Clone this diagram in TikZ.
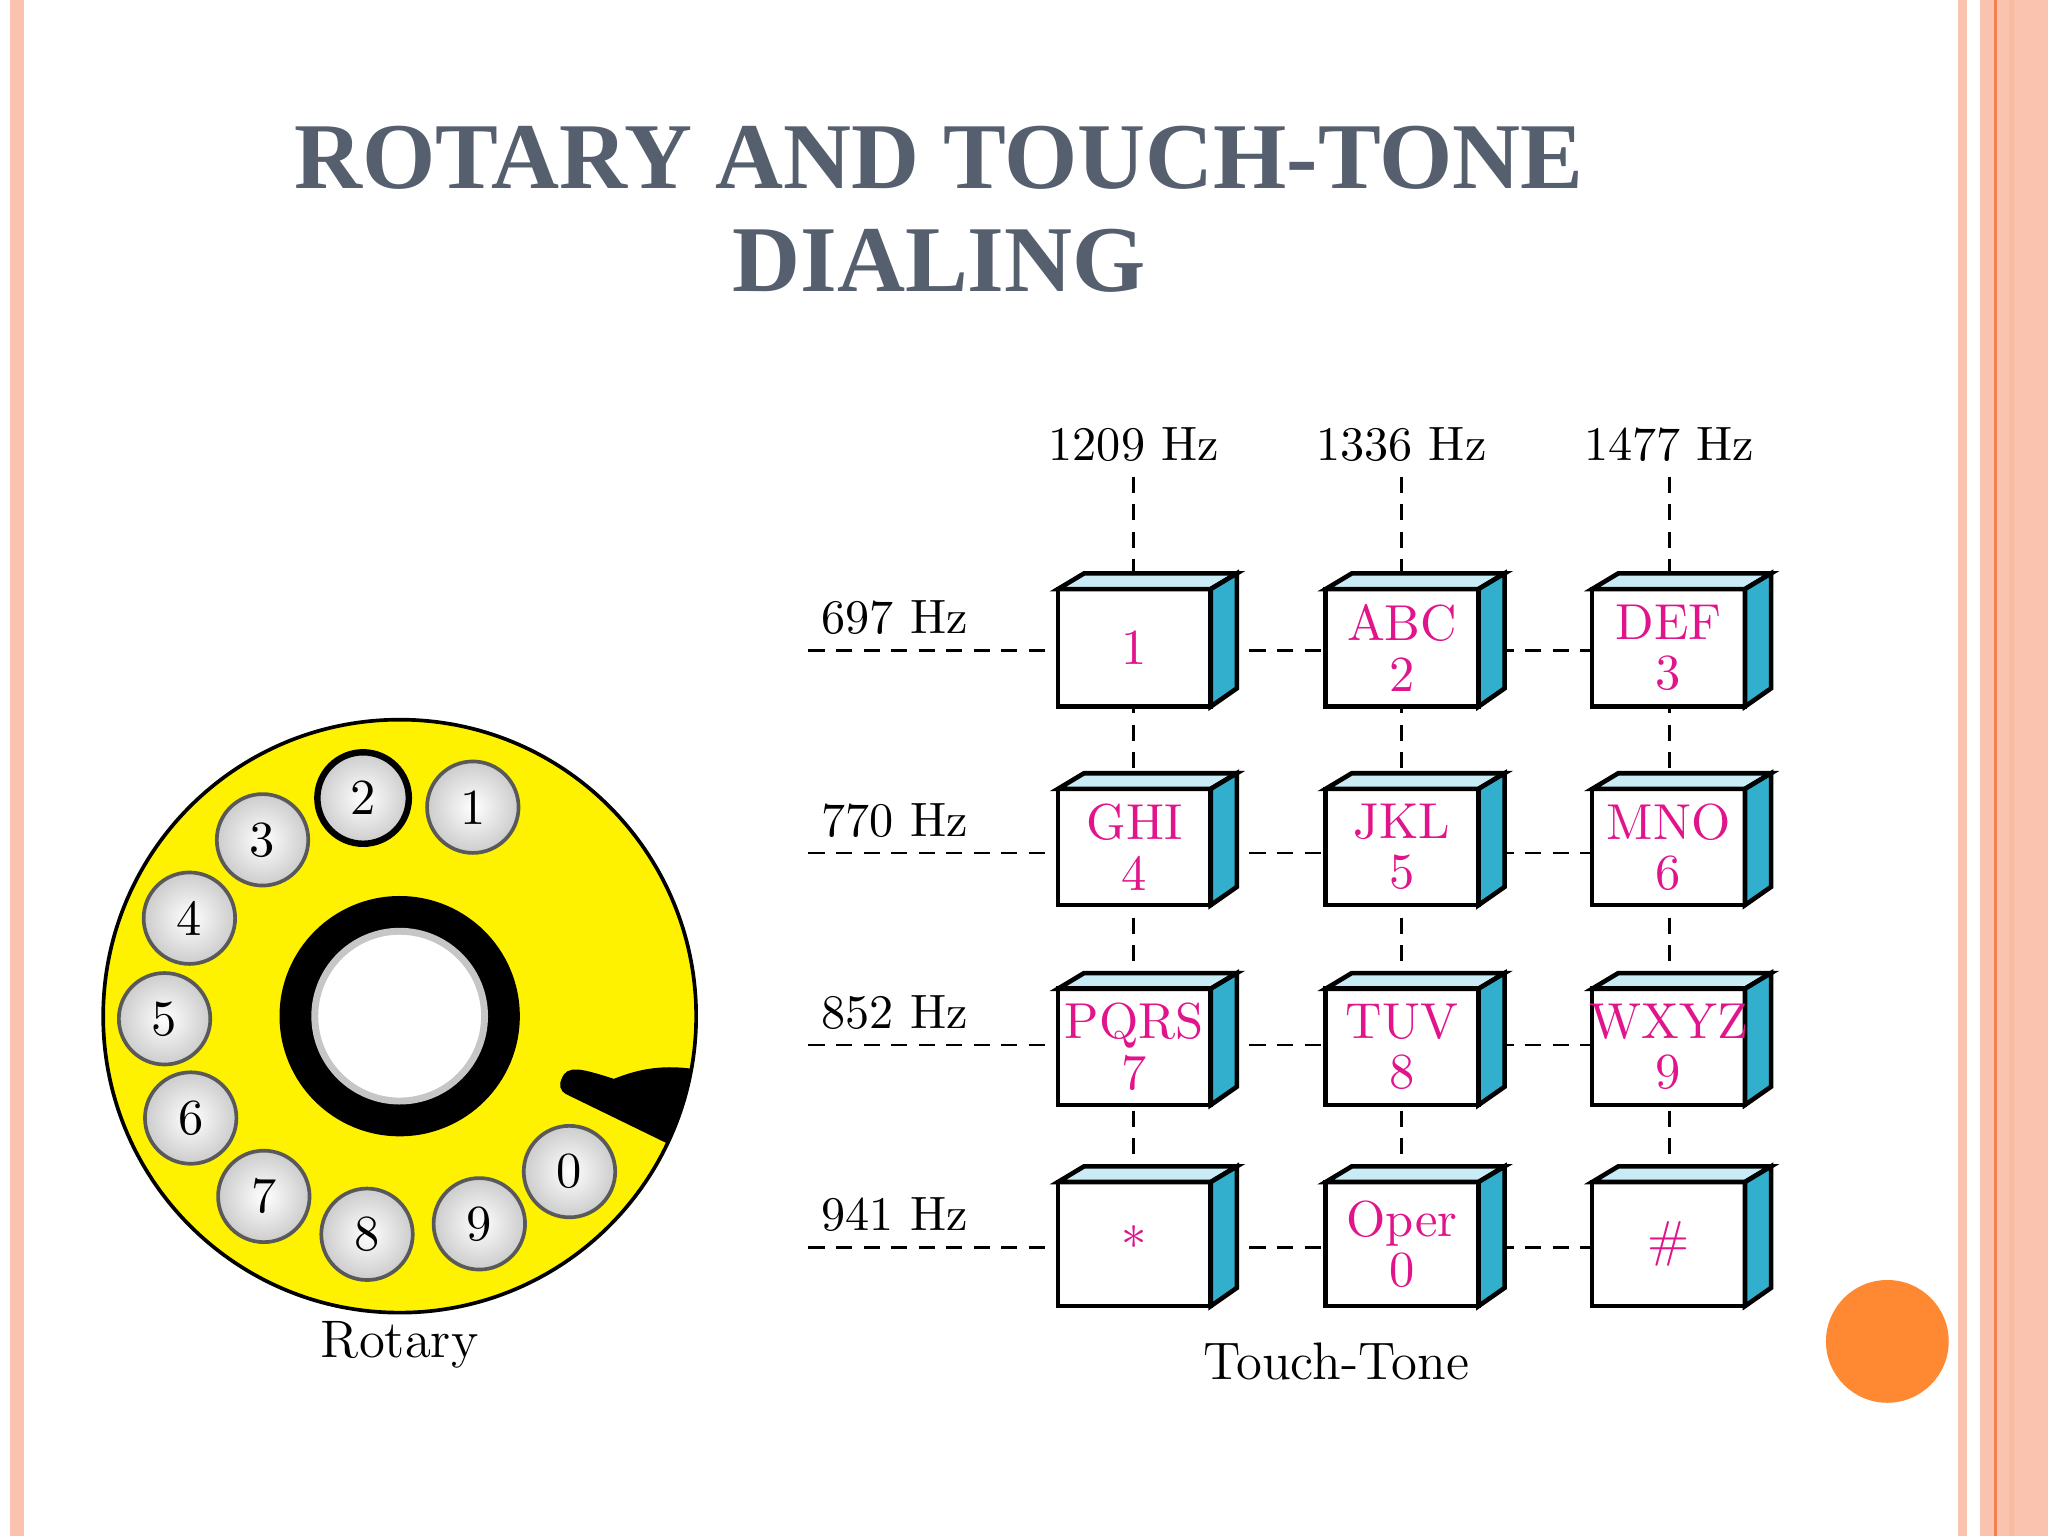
\documentclass[tikz,border=0pt]{standalone}
\usepackage{fontspec}
\setmainfont{Latin Modern Roman}
\newfontfamily\titlefont{Liberation Serif}
\usetikzlibrary{calc}
\definecolor{salmon}{RGB}{250,195,175}
\definecolor{salmondk}{RGB}{240,130,80}
\definecolor{titlec}{RGB}{85,95,110}
\definecolor{keymag}{RGB}{225,20,140}
\definecolor{keyside}{RGB}{50,175,205}
\definecolor{keytop}{RGB}{200,235,245}
\definecolor{dot}{RGB}{255,136,51}
\tikzset{
  lbl/.style={font=\fontsize{10.5}{12}\selectfont, inner sep=0pt},
  keyt/.style={font=\fontsize{11}{11}\selectfont, text=keymag, align=center, inner sep=0pt},
  dl/.style={line width=0.6pt, dash pattern=on 3.5pt off 2.5pt},
  hole/.style={circle, minimum size=0.7cm, inner sep=0pt, draw=gray!70!black, line width=0.8pt, inner color=white, outer color=gray!40, font=\fontsize{11}{12}\selectfont},
}
\begin{document}
\begin{tikzpicture}[x=0.01cm,y=-0.01cm]
\useasboundingbox (0,0) rectangle (1568,1176);
\fill[white] (0,0) rectangle (1568,1176);
% borders
\fill[salmon] (8,0) rectangle (18,1176);
\fill[salmon] (1499,0) rectangle (1506,1176);
\fill[salmon] (1516,0) rectangle (1568,1176);
\fill[salmondk] (1527,0) rectangle (1529,1176);
\fill[salmon!90!orange] (1538,0) rectangle (1542,1176);
% title
\node[font=\titlefont\bfseries\fontsize{20.5}{22.5}\selectfont, text=titlec, align=center] (title) at (719,160) {ROTARY AND TOUCH-TONE\\DIALING};
% dial
\coordinate (dc) at (306,778);
\fill[yellow] (dc) circle (227);
\begin{scope}
\clip (dc) circle (227);
\fill[black] (430,826) .. controls (434,815) and (445,818) .. (470,826) .. controls (490,818) and (510,814) .. (540,820) -- (540,880) -- (512,876) -- (434,838) .. controls (428,835) and (428,830) .. (430,826);
\end{scope}
\draw[line width=0.8pt] (dc) circle (227);
\fill[black] (dc) circle (92);
\fill[white] (dc) circle (66);
\draw[gray!45, line width=1.5pt] (dc) circle (65);
\node[hole] (h1) at (362,618) {1};
\node[hole, draw=black, line width=1.4pt] (h2) at (278,611) {2};
\node[hole] (h3) at (201,643) {3};
\node[hole] (h4) at (145,703) {4};
\node[hole] (h5) at (126,780) {5};
\node[hole] (h6) at (146,856) {6};
\node[hole] (h7) at (202,916) {7};
\node[hole] (h8) at (281,945) {8};
\node[hole] (h9) at (367,937) {9};
\node[hole] (h0) at (436,897) {0};
\node[lbl, font=\fontsize{11.5}{14}\selectfont] (rot) at (306,1030) {Rotary};
% touch-tone grid lines
\foreach \y/\n in {498/1,653/2,800/3,955/4}
  \draw[dl] (619,\y) coordinate (rs\n) -- (1219,\y) coordinate (re\n);
\foreach \x/\n in {868/1,1073/2,1278/3}
  \draw[dl] (\x,365) coordinate (cs\n) -- (\x,895) coordinate (ce\n);
% labels
\node[lbl] (f1) at (868,340) {1209 Hz};
\node[lbl] (f2) at (1073,340) {1336 Hz};
\node[lbl] (f3) at (1278,340) {1477 Hz};
\node[lbl] (g1) at (685,473) {697 Hz};
\node[lbl] (g2) at (685,628) {770 Hz};
\node[lbl] (g3) at (685,775) {852 Hz};
\node[lbl] (g4) at (685,930) {941 Hz};
% keys
\foreach \col/\x in {1/810,2/1015,3/1219}{
  \foreach \row/\yt/\yb in {1/451/541,2/604/693,3/757/846,4/905/1000}{
    \fill[white] (\x,\yt) rectangle (\x+117,\yb);
    \filldraw[fill=keytop, line width=1pt] (\x,\yt) -- (\x+20,\yt-12) -- (\x+137,\yt-12) -- (\x+117,\yt) -- cycle;
    \filldraw[fill=keyside, line width=1pt] (\x+117,\yt) -- (\x+137,\yt-12) -- (\x+137,\yb-14) -- (\x+117,\yb) -- cycle;
    \draw[line width=1pt] (\x,\yt) rectangle (\x+117,\yb);
    \coordinate (k\col\row) at (\x+58.5,{(\yt+\yb)/2});
  }
}
\node[keyt] (t1) at (k11) {1};
\node[keyt] (t2) at (k21) {ABC\\2};
\node[keyt] (t3) at (k31) {DEF\\3};
\node[keyt] (t4) at (k12) {GHI\\4};
\node[keyt] (t5) at (k22) {JKL\\5};
\node[keyt] (t6) at (k32) {MNO\\6};
\node[keyt] (t7) at (k13) {PQRS\\7};
\node[keyt] (t8) at (k23) {TUV\\8};
\node[keyt] (t9) at (k33) {WXYZ\\9};
\node[keyt] (ts) at (k14) {*};
\node[keyt] (t0) at (k24) {Oper\\0};
\node[keyt] (th) at (k34) {\#};
\node[lbl, font=\fontsize{11.5}{14}\selectfont] (tt) at (1023,1042) {Touch-Tone};
\fill[dot] (1445,1027) circle (47);
\end{tikzpicture}
\end{document}
